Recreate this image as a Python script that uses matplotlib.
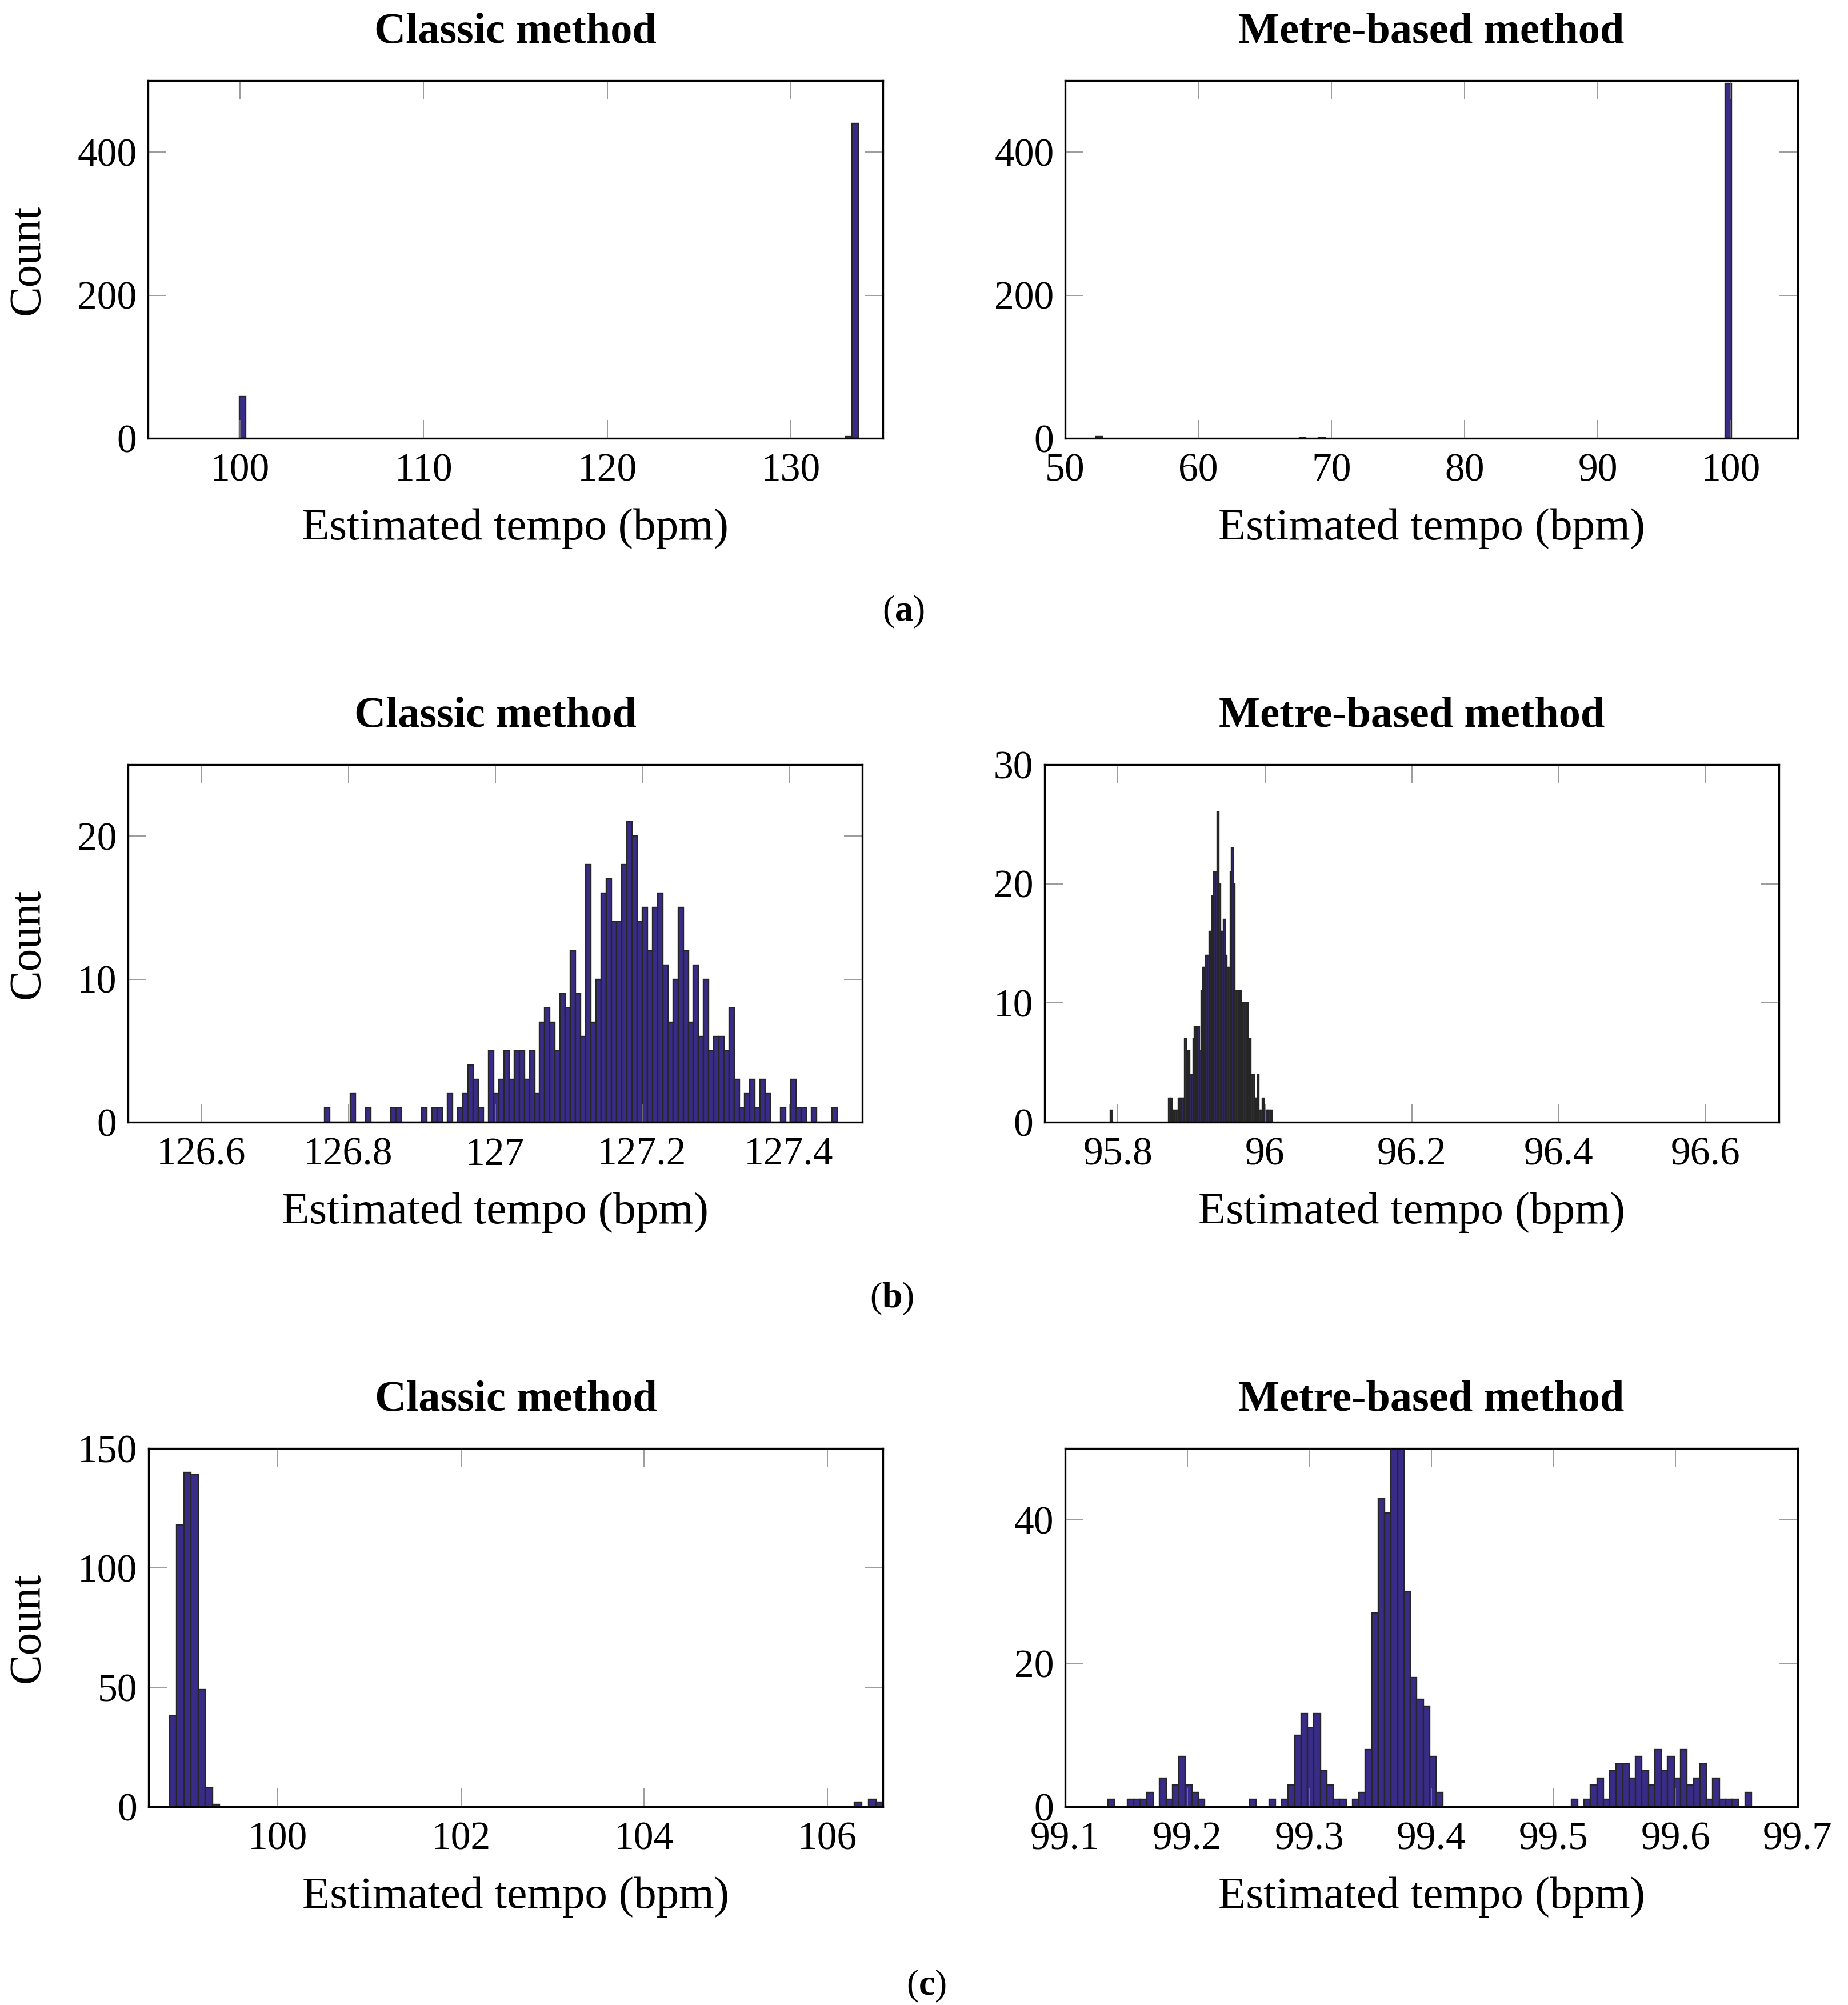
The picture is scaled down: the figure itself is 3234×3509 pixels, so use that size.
import matplotlib
matplotlib.use("Agg")
import matplotlib.pyplot as plt
from matplotlib.ticker import FuncFormatter

plt.rcParams["font.family"] = ["Liberation Serif", "DejaVu Serif"]
plt.rcParams["mathtext.fontset"] = "custom"
plt.rcParams["mathtext.rm"] = "Liberation Serif"
plt.rcParams["mathtext.bf"] = "Liberation Serif:bold"

FILL = "#392C88"; EDGE = "#262626"; TICK = "#808080"
W, H = 3234, 3509

# ---- histogram data: first bin left edge (bpm), bin width (bpm), counts per bin ----
# (a) classic
a_cls_lo, a_cls_w = 99.98, 0.3367
a_cls_bins = [0, 98, 99]
a_cls_counts = [58, 2, 440]
# (a) metre-based
a_met_lo, a_met_w = 52.33, 0.477
a_met_bins = [0, 32, 35, 99]
a_met_counts = [2, 1, 1, 496]

# (b) classic, 100 bins
b_cls_lo, b_cls_w = 126.7676, 0.006978
b_cls_counts = [1, 0, 0, 0, 0, 2, 0, 0, 1, 0,
                0, 0, 0, 1, 1, 0, 0, 0, 0, 1,
                0, 1, 1, 0, 2, 0, 1, 2, 4, 3,
                1, 0, 5, 2, 3, 5, 3, 5, 5, 3,
                5, 2, 7, 8, 7, 5, 9, 8, 12, 9,
                6, 18, 7, 10, 16, 17, 14, 14, 18, 21,
                20, 14, 15, 12, 15, 16, 11, 7, 10, 15,
                12, 7, 11, 6, 10, 5, 6, 6, 5, 8,
                3, 1, 2, 3, 1, 3, 2, 0, 0, 1,
                0, 3, 1, 1, 0, 1, 0, 0, 0, 1]
# (b) metre-based: one isolated bin, then bins 36..99
b_met_lo, b_met_w = 95.7898, 0.0022
b_met_bins_iso = [0]
b_met_counts_iso = [1]
b_met_first = 36
b_met_counts = [2, 2, 1, 1, 1, 1, 2, 2, 2, 2,
                7, 6, 6, 4, 4, 7, 8, 8, 8, 6,
                11, 13, 13, 14, 14, 16, 16, 19, 21, 21,
                26, 20, 16, 16, 17, 14, 13, 13, 21, 23,
                20, 11, 11, 11, 11, 10, 10, 10, 10, 7,
                7, 4, 4, 2, 2, 4, 1, 1, 2, 1,
                1, 1, 1, 1]

# (c) classic
c_cls_lo, c_cls_w = 98.818, 0.0779
c_cls_bins = [0, 1, 2, 3, 4, 5, 6, 96, 98, 99]
c_cls_counts = [38, 118, 140, 139, 49, 8, 1, 2, 3, 2]
# (c) metre-based, 100 bins
c_met_lo, c_met_w = 99.1352, 0.005268
c_met_counts = [1, 0, 0, 1, 1, 1, 2, 0, 4, 1,
                3, 7, 3, 2, 1, 0, 0, 0, 0, 0,
                0, 0, 1, 0, 0, 1, 0, 1, 3, 10,
                13, 11, 13, 5, 3, 1, 1, 0, 1, 2,
                8, 27, 43, 41, 53, 51, 30, 18, 15, 14,
                7, 2, 0, 0, 0, 0, 0, 0, 0, 0,
                0, 0, 0, 0, 0, 0, 0, 0, 0, 0,
                0, 0, 1, 0, 1, 3, 4, 1, 5, 6,
                6, 4, 7, 5, 3, 8, 5, 7, 4, 8,
                3, 4, 6, 1, 4, 1, 1, 1, 0, 2]

TITLES = ["Classic method", "Metre-based method"]
XLABEL = "Estimated tempo (bpm)"

# axes boxes in pixels: (x0, x1, y0, y1) measured from the top-left
BOXES = [
    [(259, 1545, 141, 767), (1864, 3146, 141, 767)],
    [(224, 1509, 1338, 1964), (1828, 3113, 1338, 1964)],
    [(260, 1545, 2535, 3162), (1864, 3146, 2535, 3162)],
]


def fmt(v, _):
    s = ("%.2f" % v).rstrip("0").rstrip(".")
    return s


def make_ax(fig, box):
    x0, x1, y0, y1 = box
    ax = fig.add_axes([x0 / W, 1 - y1 / H, (x1 - x0) / W, (y1 - y0) / H])
    for s in ax.spines.values():
        s.set_linewidth(2.4)
        s.set_color("black")
    ax.tick_params(direction="in", length=23, width=1.1, color=TICK,
                   top=True, right=True, labelsize=50, pad=14)
    ax.tick_params(axis="x", pad=19)
    ax.xaxis.set_major_formatter(FuncFormatter(fmt))
    return ax


def hist(ax, lo, w, bins, counts):
    lefts = [lo + w * b for b in bins]
    ax.bar(lefts, counts, width=w, align="edge", color=FILL, edgecolor=EDGE, linewidth=1.7)


def labels(fig, ax, box, title, left):
    x0, x1, y0, y1 = box
    xc = (x0 + x1) / 2
    fig.text(xc / W, 1 - (y0 - 66) / H, title, ha="center", va="baseline",
             fontsize=55, fontweight="bold")
    fig.text(xc / W, 1 - (y1 + 158) / H, XLABEL, ha="center", va="center", fontsize=57)
    if left:
        fig.text(49 / W, 1 - ((y0 + y1) / 2) / H, "Count", ha="center", va="center",
                 rotation=90, fontsize=57)


fig = plt.figure(figsize=(W / 100, H / 100), dpi=100)

# row (a)
ax = make_ax(fig, BOXES[0][0])
hist(ax, a_cls_lo, a_cls_w, a_cls_bins, a_cls_counts)
ax.set_xlim(95, 135); ax.set_ylim(0, 500)
ax.set_xticks([100, 110, 120, 130]); ax.set_yticks([0, 200, 400])
labels(fig, ax, BOXES[0][0], TITLES[0], True)

ax = make_ax(fig, BOXES[0][1])
hist(ax, a_met_lo, a_met_w, a_met_bins, a_met_counts)
ax.set_xlim(50, 105); ax.set_ylim(0, 500)
ax.set_xticks([50, 60, 70, 80, 90, 100]); ax.set_yticks([0, 200, 400])
labels(fig, ax, BOXES[0][1], TITLES[1], False)

# row (b)
ax = make_ax(fig, BOXES[1][0])
hist(ax, b_cls_lo, b_cls_w, range(len(b_cls_counts)), b_cls_counts)
ax.set_xlim(126.5, 127.5); ax.set_ylim(0, 25)
ax.set_xticks([126.6, 126.8, 127.0, 127.2, 127.4]); ax.set_yticks([0, 10, 20])
labels(fig, ax, BOXES[1][0], TITLES[0], True)

ax = make_ax(fig, BOXES[1][1])
hist(ax, b_met_lo, b_met_w, b_met_bins_iso, b_met_counts_iso)
hist(ax, b_met_lo, b_met_w, range(b_met_first, b_met_first + len(b_met_counts)), b_met_counts)
ax.set_xlim(95.7, 96.7); ax.set_ylim(0, 30)
ax.set_xticks([95.8, 96.0, 96.2, 96.4, 96.6]); ax.set_yticks([0, 10, 20, 30])
labels(fig, ax, BOXES[1][1], TITLES[1], False)

# row (c)
ax = make_ax(fig, BOXES[2][0])
hist(ax, c_cls_lo, c_cls_w, c_cls_bins, c_cls_counts)
ax.set_xlim(98.588, 106.608); ax.set_ylim(0, 150)
ax.set_xticks([100, 102, 104, 106]); ax.set_yticks([0, 50, 100, 150])
labels(fig, ax, BOXES[2][0], TITLES[0], True)

ax = make_ax(fig, BOXES[2][1])
hist(ax, c_met_lo, c_met_w, range(len(c_met_counts)), c_met_counts)
ax.set_xlim(99.1, 99.7); ax.set_ylim(0, 50)
ax.set_xticks([99.1, 99.2, 99.3, 99.4, 99.5, 99.6, 99.7]); ax.set_yticks([0, 20, 40])
labels(fig, ax, BOXES[2][1], TITLES[1], False)

# sub-figure captions
for txt, (x, y) in zip([r"($\mathbf{a}$)", r"($\mathbf{b}$)", r"($\mathbf{c}$)"],
                       [(1581, 1071), (1561, 2273), (1621, 3476)]):
    fig.text(x / W, 1 - y / H, txt, ha="center", va="center", fontsize=46)

fig.savefig("out.png", dpi=100, facecolor="white")
